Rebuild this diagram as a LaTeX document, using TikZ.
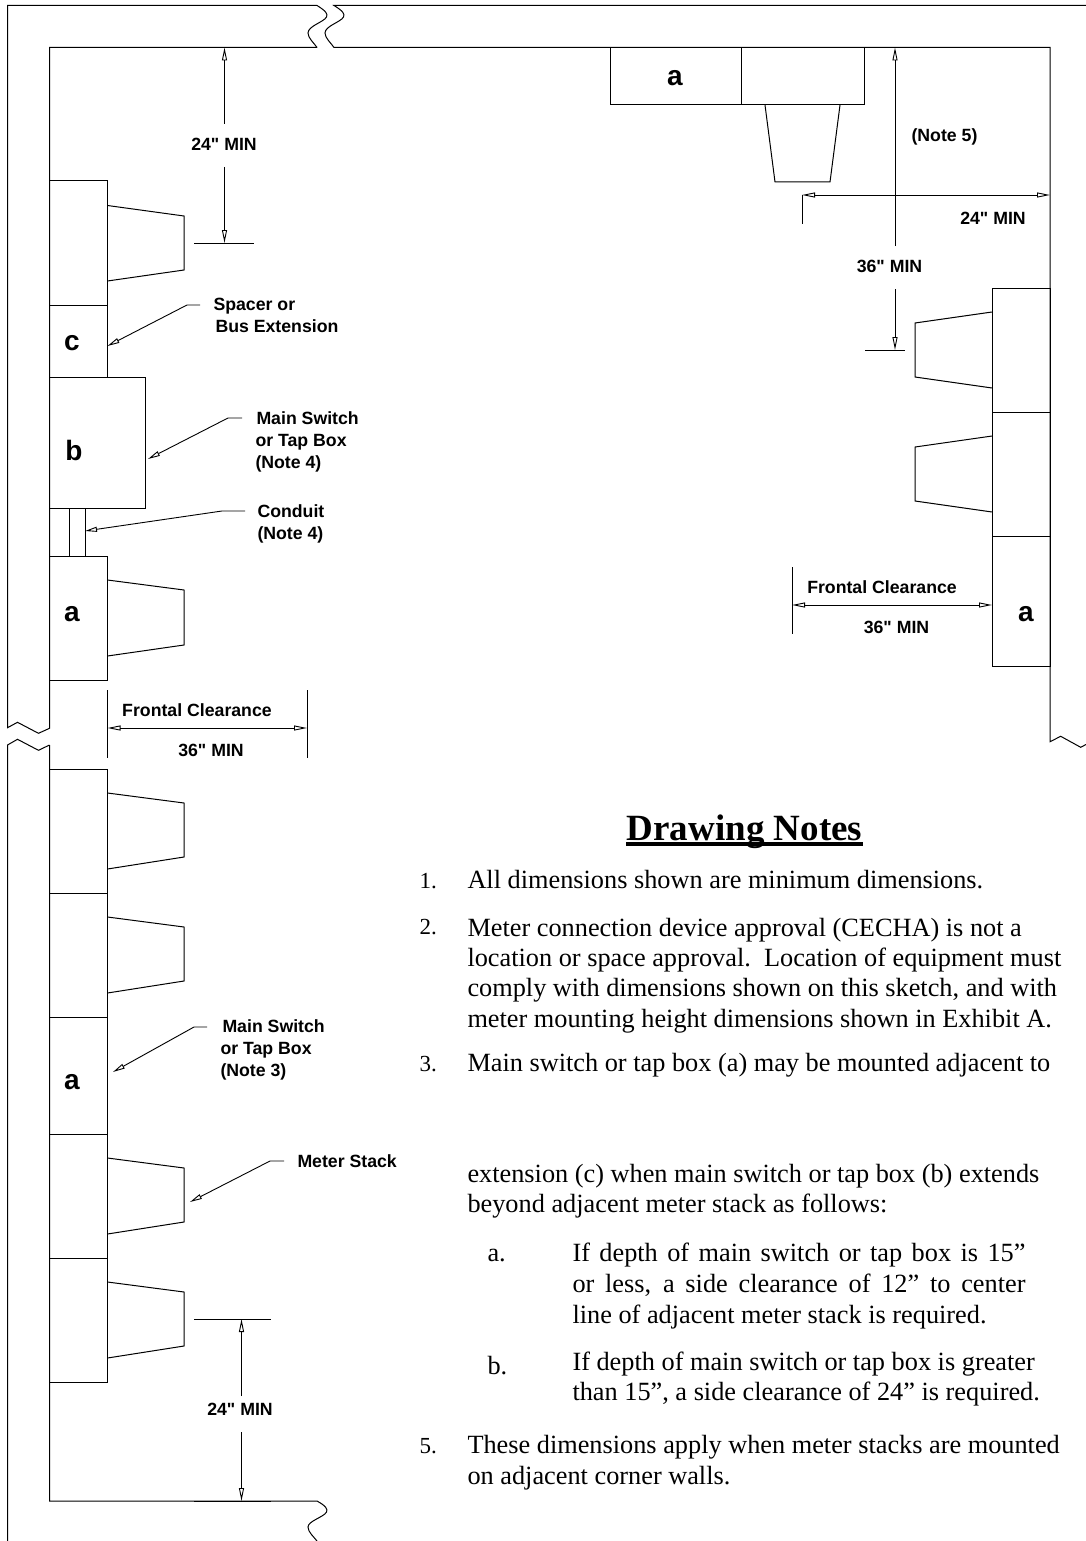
\documentclass[tikz,border=0pt]{standalone}
\usepackage{fontspec}
\setmainfont{Liberation Serif}
\newfontfamily\labelfont{Liberation Sans}
\usetikzlibrary{arrows.meta}

\begin{document}
\begin{tikzpicture}[
    x=1pt, y=-1pt, line width=1pt,
    dimline/.style={{Triangle[open,length=13pt,width=5pt]}-{Triangle[open,length=13pt,width=5pt]}, line width=0.9pt},
    dimend/.style={-{Triangle[open,length=13pt,width=5pt]}, line width=0.9pt},
    leader/.style={-{Triangle[open,length=12pt,width=5pt]}, line width=0.9pt},
    tag/.style={font=\labelfont\bfseries\fontsize{17.7}{22}\selectfont, inner sep=0pt, align=left},
    letter/.style={font=\labelfont\bfseries\fontsize{28}{30}\selectfont, inner sep=0pt},
    noteline/.style={font=\fontsize{26.3}{28}\selectfont, anchor=base west, inner sep=0pt},
    notenum/.style={font=\fontsize{23}{26}\selectfont, anchor=base west, inner sep=0pt}
]
\useasboundingbox (0,0) rectangle (1086,1541);

% Walls
\draw (317,5.5) -- (7.5,5.5) -- (7.5,727.7) -- (17.5,722.3) -- (38.5,733.3) -- (49.5,728.3) -- (49.5,47.5) -- (317,47.5);
\draw (49.5,745) -- (38.5,750.3) -- (17.5,739.3) -- (7.5,745) -- (7.5,1541);
\draw (317,47.5) .. controls (314,43) and (308,38) .. (308,33) .. controls (308,26) and (324,22) .. (326.5,17) .. controls (328,14) and (326,11) .. (317,5.5);
\draw (1086,5.5) -- (334,5.5) .. controls (343,11) and (345,14) .. (343.5,17) .. controls (341,22) and (325,26) .. (325,33) .. controls (325,38) and (331,43) .. (334,47.5) -- (1050,47.5) -- (1050,741.7) -- (1060.7,736.3) -- (1080.7,747.3) -- (1086,744.5);
\draw (49.5,745) -- (49.5,1501) -- (317,1501) .. controls (326,1506) and (328,1509) .. (326.5,1512) .. controls (324,1517) and (308,1521) .. (308,1527) .. controls (308,1532) and (314,1537) .. (317,1541);

% Left stack, upper
\draw (49.5,181) rectangle (107.5,305);
\draw (107.5,205.5) -- (184,216) -- (184,270) -- (107.5,281);
\draw (49.5,305) rectangle (107.5,377);
\draw (49.5,377) rectangle (145.5,508);
\draw (69,508) -- (69,556);
\draw (85,508) -- (85,556);
\draw (49.5,556) rectangle (107.5,680);
\draw (107.5,580) -- (184,590) -- (184,645) -- (107.5,656);
\node[letter] (cupper) at (72,343) {c};
\node[letter] (bupper) at (74,450) {b};
\node[letter] (aupper) at (72,614) {a};

% Left stack, lower
\draw (49.5,769) rectangle (107.5,893);
\draw (107.5,793) -- (184,803) -- (184,857) -- (107.5,869);
\draw (49.5,893) rectangle (107.5,1017);
\draw (107.5,917) -- (184,927) -- (184,981) -- (107.5,993);
\draw (49.5,1017) rectangle (107.5,1134);
\draw (49.5,1134) rectangle (107.5,1258);
\draw (107.5,1158) -- (184,1168) -- (184,1222) -- (107.5,1234);
\draw (49.5,1258) rectangle (107.5,1382);
\draw (107.5,1282) -- (184,1292) -- (184,1346) -- (107.5,1358);
\node[letter] (alower) at (72,1082) {a};

% Top stack
\draw (610,47.5) rectangle (741,105);
\draw (741,47.5) rectangle (864,105);
\draw (765,105) -- (775,182) -- (830,182) -- (840,105);
\node[letter] (atop) at (675,78) {a};

% Right stack
\draw (992,288) rectangle (1050,412);
\draw (992,312) -- (915,323) -- (915,377) -- (992,388);
\draw (992,412) rectangle (1050,536);
\draw (992,436) -- (915,447) -- (915,501) -- (992,512);
\draw (992,536) rectangle (1050,666);
\node[letter] (aright) at (1026,614) {a};

% Top left dimension
\node[tag] (topmin) at (224,144) {24" MIN};
\draw (194,47.5) -- (254,47.5);
\draw (194,243) -- (254,243);
\coordinate (topa) at (224.5,47.5);
\coordinate (topb) at (224.5,243);
\draw[dimend] (224.5,124) -- (topa);
\draw[dimend] (224.5,167) -- (topb);

% Bottom left dimension
\node[tag] (botmin) at (240,1409) {24" MIN};
\draw (194,1319) -- (271,1319);
\draw (194,1501) -- (271,1501);
\coordinate (bota) at (241.5,1319);
\coordinate (botb) at (241.5,1501);
\draw[dimend] (241.5,1396) -- (bota);
\draw[dimend] (241.5,1432) -- (botb);

% Right dimensions
\node[tag] (notefive) at (944.5,137) {(Note 5)};
\node[tag] (rightmin) at (993,218) {24" MIN};
\node[tag] (cornermin) at (889.5,266) {36" MIN};
\coordinate (cornera) at (895,47.5);
\coordinate (cornerb) at (895,350);
\coordinate (sidea) at (802,195);
\coordinate (sideb) at (1050,195);
\draw[dimend] (895,246) -- (cornera);
\draw[dimend] (895,289) -- (cornerb);
\draw (865,350) -- (905,350);
\draw[dimline] (sidea) -- (sideb);
\draw (802,195) -- (802,224);

% Frontal clearance, left
\node[tag] (frontleft) at (197,710) {Frontal Clearance};
\node[tag] (minleft) at (211,750) {36" MIN};
\coordinate (flefta) at (107.5,728);
\coordinate (fleftb) at (307,728);
\draw[dimline] (flefta) -- (fleftb);
\draw (107.5,690) -- (107.5,758);
\draw (307,690) -- (307,758);

% Frontal clearance, right
\node[tag] (frontright) at (882,587) {Frontal Clearance};
\node[tag] (minright) at (896.5,627) {36" MIN};
\coordinate (frighta) at (792,605);
\coordinate (frightb) at (992,605);
\draw[dimline] (frighta) -- (frightb);
\draw (792,567) -- (792,634);

% Leaders
\node[tag, anchor=west] (spacer) at (213,315.5) {Spacer or\\\hspace*{2pt}Bus Extension};
\node[tag, anchor=west] (mainupper) at (255,442) {\hspace*{1pt}Main Switch\\or Tap Box\\(Note 4)};
\node[tag, anchor=west] (conduit) at (257,524) {Conduit\\(Note 4)};
\node[tag, anchor=west] (mainlower) at (220,1050) {\hspace*{2pt}Main Switch\\or Tap Box\\(Note 3)};
\node[tag, anchor=west] (stack) at (297,1161) {Meter Stack};
\coordinate (spacertip) at (107.5,346);
\coordinate (maintip) at (148,459);
\coordinate (conduittip) at (85,531);
\coordinate (lowertip) at (113,1072);
\coordinate (stacktip) at (190,1202);
\draw[leader] (200,305) -- (187,305) -- (spacertip);
\draw[leader] (242,418) -- (228,418) -- (maintip);
\draw[leader] (245,511) -- (222,511) -- (conduittip);
\draw[leader] (207,1027) -- (194,1027) -- (lowertip);
\draw[leader] (284,1161) -- (270,1161) -- (stacktip);

% Drawing notes
\node[font=\bfseries\fontsize{37}{40}\selectfont, inner sep=0pt, anchor=base] (title) at (744.5,840) {Drawing Notes};
\draw[line width=4.5pt] ([yshift=-4pt]title.base west) -- ([yshift=-4pt]title.base east);

\node[notenum] (n1) at (419,888) {1.};
\node[noteline] (l1) at (467,888) {All dimensions shown are minimum dimensions.};
\node[notenum] (n2) at (419,934) {2.};
\node[noteline] (l2) at (467,936) {Meter connection device approval (CECHA) is not a};
\node[noteline] (l3) at (467,966) {location or space approval.\ \ Location of equipment must};
\node[noteline] (l4) at (467,996) {comply with dimensions shown on this sketch, and with};
\node[noteline] (l5) at (467,1027) {meter mounting height dimensions shown in Exhibit A.};
\node[notenum] (n3) at (419,1071) {3.};
\node[noteline] (l6) at (467,1071) {Main switch or tap box (a) may be mounted adjacent to};
\node[noteline] (l7) at (467,1182) {extension (c) when main switch or tap box (b) extends};
\node[noteline] (l8) at (467,1212) {beyond adjacent meter stack as follows:};
\node[noteline] (na) at (487,1261) {a.};
\node[noteline] (l9) at (572,1261) {\makebox[453pt][s]{If depth of main switch or tap box is 15”}};
\node[noteline] (l10) at (572,1292) {\makebox[453pt][s]{or less, a side clearance of 12” to center}};
\node[noteline] (l11) at (572,1323) {line of adjacent meter stack is required.};
\node[noteline] (nb) at (487,1374) {b.};
\node[noteline] (l12) at (572,1370) {If depth of main switch or tap box is greater};
\node[noteline] (l13) at (572,1400) {than 15”, a side clearance of 24” is required.};
\node[notenum] (n5) at (419,1453) {5.};
\node[noteline] (l14) at (467,1453) {These dimensions apply when meter stacks are mounted};
\node[noteline] (l15) at (467,1484) {on adjacent corner walls.};

\end{tikzpicture}
\end{document}
